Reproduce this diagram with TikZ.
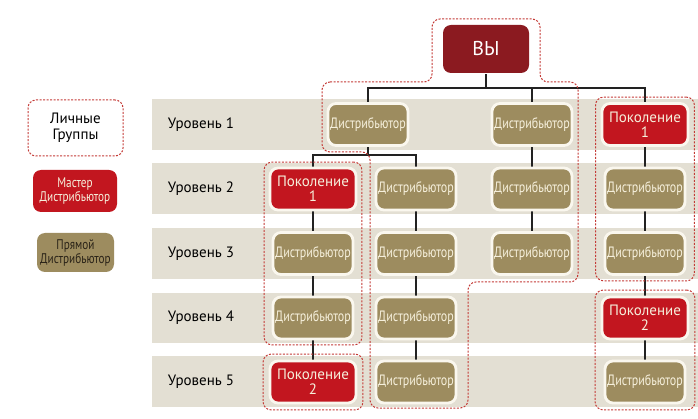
\documentclass[tikz,border=0pt]{standalone}
\usepackage{fontspec}
\setmainfont{PT Sans}
\newfontfamily\condfont[FakeStretch=0.8]{PT Sans}
\usetikzlibrary{fit}
\definecolor{band}{HTML}{E3DFD3}
\definecolor{olivebox}{HTML}{9D8C5F}
\definecolor{redbox}{HTML}{C2161F}
\definecolor{darkred}{HTML}{8B1A20}
\definecolor{cream}{HTML}{F6F0DC}
\definecolor{halo}{HTML}{FAF7EE}
\definecolor{dashred}{HTML}{C43A36}
\definecolor{connc}{HTML}{222222}
\definecolor{darktext}{HTML}{2A2318}
\pgfdeclarelayer{bg}\pgfdeclarelayer{mid}\pgfsetlayers{bg,mid,main}
\begin{document}
\begin{tikzpicture}[x=1pt,y=-1pt,
  box/.style={rounded corners=8pt, minimum height=42pt, draw=halo, line width=2.8pt, align=center, inner sep=0pt},
  distr/.style={box, fill=olivebox, text=cream, minimum width=80pt, font=\condfont\fontsize{15}{16}\selectfont},
  gen/.style={box, fill=redbox, text=cream, minimum width=86pt, font=\fontsize{15}{15}\selectfont},
  grp/.style={draw=dashred, line width=1pt, dash pattern=on 2pt off 1.5pt, rounded corners=8pt},
  conn/.style={draw=connc, line width=1.3pt},
  lvl/.style={font=\fontsize{15}{16}\selectfont, text=black},
  legbox/.style={rounded corners=8pt, align=center, inner sep=0pt}
]
\useasboundingbox (0,0) rectangle (698,419);
\begin{pgfonlayer}{bg}
\fill[white] (0,0) rectangle (698,419);
\fill[band] (152,99) rectangle (698,150);
\fill[band] (152,163) rectangle (698,214);
\fill[band] (152,228) rectangle (698,279);
\fill[band] (152,293) rectangle (698,343);
\fill[band] (152,356) rectangle (698,407);
\end{pgfonlayer}

% level labels
\node[lvl] (l1) at (201,124.5) {Уровень 1};
\node[lvl] (l2) at (201,188.5) {Уровень 2};
\node[lvl] (l3) at (201,253.5) {Уровень 3};
\node[lvl] (l4) at (201,318) {Уровень 4};
\node[lvl] (l5) at (201,381.5) {Уровень 5};

% legend
\node[legbox, grp, fill=white, minimum width=95pt, minimum height=56pt, font=\fontsize{15}{16}\selectfont] (lg) at (75.5,128) {Личные\\Группы};
\node[legbox, fill=redbox, text=cream, minimum width=84pt, minimum height=42pt, font=\condfont\fontsize{14}{14}\selectfont] (lm) at (75,191) {Мастер\\Дистрибьютор};
\node[legbox, fill=olivebox, text=darktext, minimum width=77pt, minimum height=39pt, font=\condfont\fontsize{14}{14}\selectfont] (lp) at (75.5,252.5) {Прямой\\Дистрибьютор};

% top
\node[box, fill=darkred, text=white, minimum width=86pt, minimum height=48pt, draw=none, font=\fontsize{20}{20}\selectfont] (vy) at (486,49) {ВЫ};

% level 1
\node[distr] (d11) at (368,124.5) {Дистрибьютор};
\node[distr] (d12) at (532,124.5) {Дистрибьютор};
\node[gen]   (p11) at (645,124.5) {Поколение\\1};
% level 2
\node[gen]   (p21) at (313,189) {Поколение\\1};
\node[distr] (d22) at (416,189) {Дистрибьютор};
\node[distr] (d23) at (532,189) {Дистрибьютор};
\node[distr] (d24) at (645,189) {Дистрибьютор};
% level 3
\node[distr] (d31) at (313,253.5) {Дистрибьютор};
\node[distr] (d32) at (416,253.5) {Дистрибьютор};
\node[distr] (d33) at (532,253.5) {Дистрибьютор};
\node[distr] (d34) at (645,253.5) {Дистрибьютор};
% level 4
\node[distr] (d41) at (313,318) {Дистрибьютор};
\node[distr] (d42) at (416,318) {Дистрибьютор};
\node[gen]   (p44) at (645,318) {Поколение\\2};
% level 5
\node[gen]   (p51) at (313,382) {Поколение\\2};
\node[distr] (d52) at (416,382) {Дистрибьютор};
\node[distr] (d54) at (645,382) {Дистрибьютор};

\begin{pgfonlayer}{mid}
% connectors
\coordinate (b1) at (486,88);
\coordinate (b2) at (368,155);
\draw[conn] (vy) -- (b1);
\draw[conn] (d11) |- (b1);
\draw[conn] (d12) |- (b1);
\draw[conn] (p11) |- (b1);
\draw[conn] (d11) -- (b2);
\draw[conn] (p21) |- (b2);
\draw[conn] (d22) |- (b2);
\draw[conn] (d12) -- (d23) -- (d33);
\draw[conn] (p11) -- (d24) -- (d34) -- (p44) -- (d54);
\draw[conn] (p21) -- (d31) -- (d41) -- (p51);
\draw[conn] (d22) -- (d32) -- (d42) -- (d52);
% groups
\draw[grp] (322,82) -- (432,82) -- (432,19) -- (540,19) -- (540,82) -- (578,82) -- (578,282) -- (468,282) -- (468,408) -- (370,408) -- (370,152) -- (322,152) -- cycle;
\node[grp, fit=(p21)(d41), inner sep=4.5pt] (g1) {};
\node[grp, fit=(p51), inner sep=5.5pt] (g2) {};
\node[grp, fit=(p11)(d34), inner sep=5pt] (g3) {};
\node[grp, fit=(p44)(d54), inner sep=5.5pt] (g4) {};
\end{pgfonlayer}
\end{tikzpicture}
\end{document}
